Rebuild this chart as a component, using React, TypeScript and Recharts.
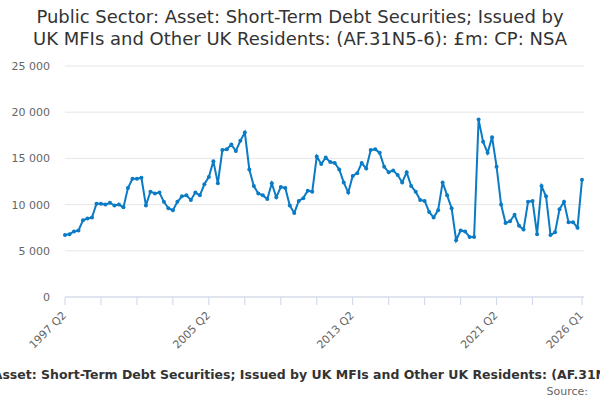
import React from "react";
import { LineChart, Line, XAxis, YAxis, CartesianGrid } from "recharts";

const TITLE =
  "Public Sector: Asset: Short-Term Debt Securities; Issued by UK MFIs and Other UK Residents: (AF.31N5-6): £m: CP: NSA";

const START_YEAR = 1997;
const START_QUARTER = 2;

// £m, quarterly from 1997 Q2 to 2026 Q1
const VALUES = [
  6700, 6800, 7100, 7200, 8300, 8500, 8600, 10100, 10100, 10000,
  10200, 9900, 10000, 9700, 11800, 12800, 12800, 12900, 9900, 11400,
  11200, 11300, 10300, 9600, 9400, 10300, 10900, 11000, 10500, 11300,
  11000, 12200, 13000, 14700, 12300, 15900, 16000, 16500, 15800, 16900,
  17800, 13800, 12000, 11200, 11000, 10600, 12300, 10800, 11900, 11800,
  9900, 9100, 10400, 10700, 11500, 11400, 15200, 14400, 15100, 14600,
  14500, 13800, 12400, 11300, 13100, 13400, 14500, 13900, 15900, 16000,
  15600, 14100, 13500, 13700, 13200, 12400, 13500, 12000, 11400, 10500,
  10400, 9200, 8600, 9400, 12400, 11000, 9600, 6150, 7200, 7100,
  6500, 6500, 19200, 16800, 15600, 17300, 14100, 10000, 8000, 8200,
  8900, 7700, 7300, 10300, 10400, 6800, 12000, 10900, 6700, 7000,
  9500, 10300, 8100, 8100, 7500, 12700,
];

const AXIS_TICKS = [
  "1997 Q2", "1999 Q2", "2001 Q2", "2003 Q2", "2005 Q2", "2007 Q2", "2009 Q2",
  "2011 Q2", "2013 Q2", "2015 Q2", "2017 Q2", "2019 Q2", "2021 Q2", "2023 Q2",
  "2026 Q1",
];
const TICK_LABELS = ["1997 Q2", "2005 Q2", "2013 Q2", "2021 Q2", "2026 Q1"];
const Y_TICKS = [0, 5000, 10000, 15000, 20000, 25000];

const LINE_COLOR = "#0a7bc4";
const FONT = "'DejaVu Sans', sans-serif";

const data = VALUES.map((v, i) => {
  const q = START_QUARTER - 1 + i;
  return {
    quarter: `${START_YEAR + Math.floor(q / 4)} Q${(q % 4) + 1}`,
    value: v,
  };
});

const fmt = (v: number) => String(v).replace(/\B(?=(\d{3})+(?!\d))/g, " ");

const XTick = (props: any) => {
  const { x, y, payload } = props;
  if (!TICK_LABELS.includes(payload.value)) return null;
  const tx = x + 2;
  const ty = y + 11;
  return (
    <text
      x={tx}
      y={ty}
      transform={`rotate(-45, ${tx}, ${ty})`}
      textAnchor="end"
      fill="#666666"
      fontSize={11}
      fontFamily={FONT}
    >
      {payload.value}
    </text>
  );
};

export default function App() {
  return (
    <div
      style={{
        position: "absolute",
        left: 0,
        top: 0,
        width: 600,
        height: 400,
        overflow: "hidden",
        background: "#fff",
        fontFamily: FONT,
      }}
    >
      <LineChart
        width={600}
        height={400}
        data={data}
        margin={{ top: 66, right: 16, bottom: 43, left: 0 }}
      >
        <CartesianGrid vertical={false} stroke="#e6e6e6" />
        <XAxis
          dataKey="quarter"
          ticks={AXIS_TICKS}
          interval={0}
          height={60}
          padding={{ left: 0, right: 2 }}
          axisLine={{ stroke: "#ccd6eb" }}
          tickLine={{ stroke: "#ccd6eb" }}
          tickSize={8}
          tickMargin={0}
          tick={<XTick />}
        />
        <YAxis
          width={65}
          domain={[0, 25000]}
          ticks={Y_TICKS}
          tickFormatter={fmt}
          axisLine={false}
          tickLine={false}
          tickSize={0}
          tickMargin={15}
          tick={{ fill: "#666666", fontSize: 11, fontFamily: FONT }}
        />
        <Line
          type="linear"
          dataKey="value"
          stroke={LINE_COLOR}
          strokeWidth={2}
          dot={{ r: 2, fill: LINE_COLOR, stroke: LINE_COLOR, strokeWidth: 0 }}
          isAnimationActive={false}
        />
      </LineChart>
      <div
        style={{
          position: "absolute",
          top: 6,
          left: 30,
          width: 540,
          textAlign: "center",
          fontSize: 18,
          lineHeight: "22px",
          color: "#333333",
        }}
      >
        {TITLE}
      </div>
      <div
        style={{
          position: "absolute",
          top: 367,
          left: 11,
          width: 600,
          display: "flex",
          justifyContent: "center",
          whiteSpace: "nowrap",
          fontSize: 12.5,
          fontWeight: "bold",
          color: "#333333",
        }}
      >
        <span>{TITLE}</span>
      </div>
      <div
        style={{
          position: "absolute",
          top: 385,
          right: 12,
          fontSize: 11,
          color: "#666666",
        }}
      >
        Source:
      </div>
    </div>
  );
}
